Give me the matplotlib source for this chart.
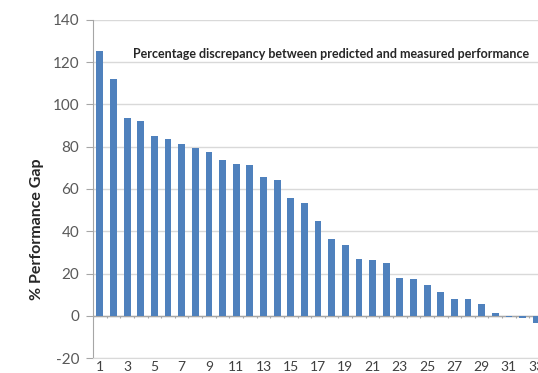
import matplotlib
matplotlib.use("Agg")
import matplotlib.pyplot as plt
import numpy as np

# Building index (ranked by gap) and performance gap in percent
buildings = list(range(1, 34))
gap = [125.4, 111.9, 93.5, 92.4, 84.9, 83.7, 81.3, 79.5, 77.3, 73.7,
       71.7, 71.3, 65.9, 64.3, 55.6, 53.5, 44.8, 36.5, 33.7, 26.8,
       26.2, 24.8, 18.1, 17.5, 14.4, 11.4, 8.0, 7.8, 5.6, 1.1,
       -0.8, -1.0, -3.5]
xtick_labels = [str(b) for b in buildings[::2]]
yticks = [-20, 0, 20, 40, 60, 80, 100, 120, 140]
title = "Percentage discrepancy between predicted and measured performance"
ylabel = "% Performance Gap"

plt.rcParams['font.family'] = ['Lato', 'DejaVu Sans']

fig = plt.figure(figsize=(5.38, 3.73), dpi=100)
ax = fig.add_axes([93 / 538, 15 / 373, 450 / 538, 338 / 373])

x = np.arange(len(buildings))
ax.bar(x, gap, width=0.5, color='#4F81BD', zorder=3)

ax.set_xlim(-0.5, len(buildings) - 0.5)
ax.set_ylim(-20, 140)
ax.set_yticks(yticks)
ax.set_yticklabels([str(v) for v in yticks], fontsize=11, color='#595959')
ax.set_xticks(x[::2])
ax.set_xticklabels(xtick_labels, fontsize=10, color='#404040')
ax.tick_params(axis='x', length=0, pad=2)
ax.tick_params(axis='y', length=5, width=0.8, color='#a6a6a6', pad=5)

ax.yaxis.grid(True, color='#d9d9d9', linewidth=1.0, zorder=0)
for s in ['top', 'right']:
    ax.spines[s].set_visible(False)
ax.spines['left'].set_color('#a6a6a6')
ax.spines['bottom'].set_color('#d9d9d9')

# Category axis at zero with tick marks between categories
ax.axhline(0, color='#a6a6a6', linewidth=1.0, zorder=2)
bounds = np.arange(len(buildings) + 1) - 0.5
ax.vlines(bounds, -1.3, 0, color='#a6a6a6', linewidth=0.8, zorder=2)

ax.text(40 / 450, 0.9, title, transform=ax.transAxes, fontsize=9.0,
        fontweight='bold', color='#262626', va='center', ha='left')
fig.text(37 / 538, 1 - 229 / 373, ylabel, rotation=90, fontsize=11.5,
         fontweight='bold', color='#262626', va='center', ha='center')

fig.savefig('out.png', dpi=100)
